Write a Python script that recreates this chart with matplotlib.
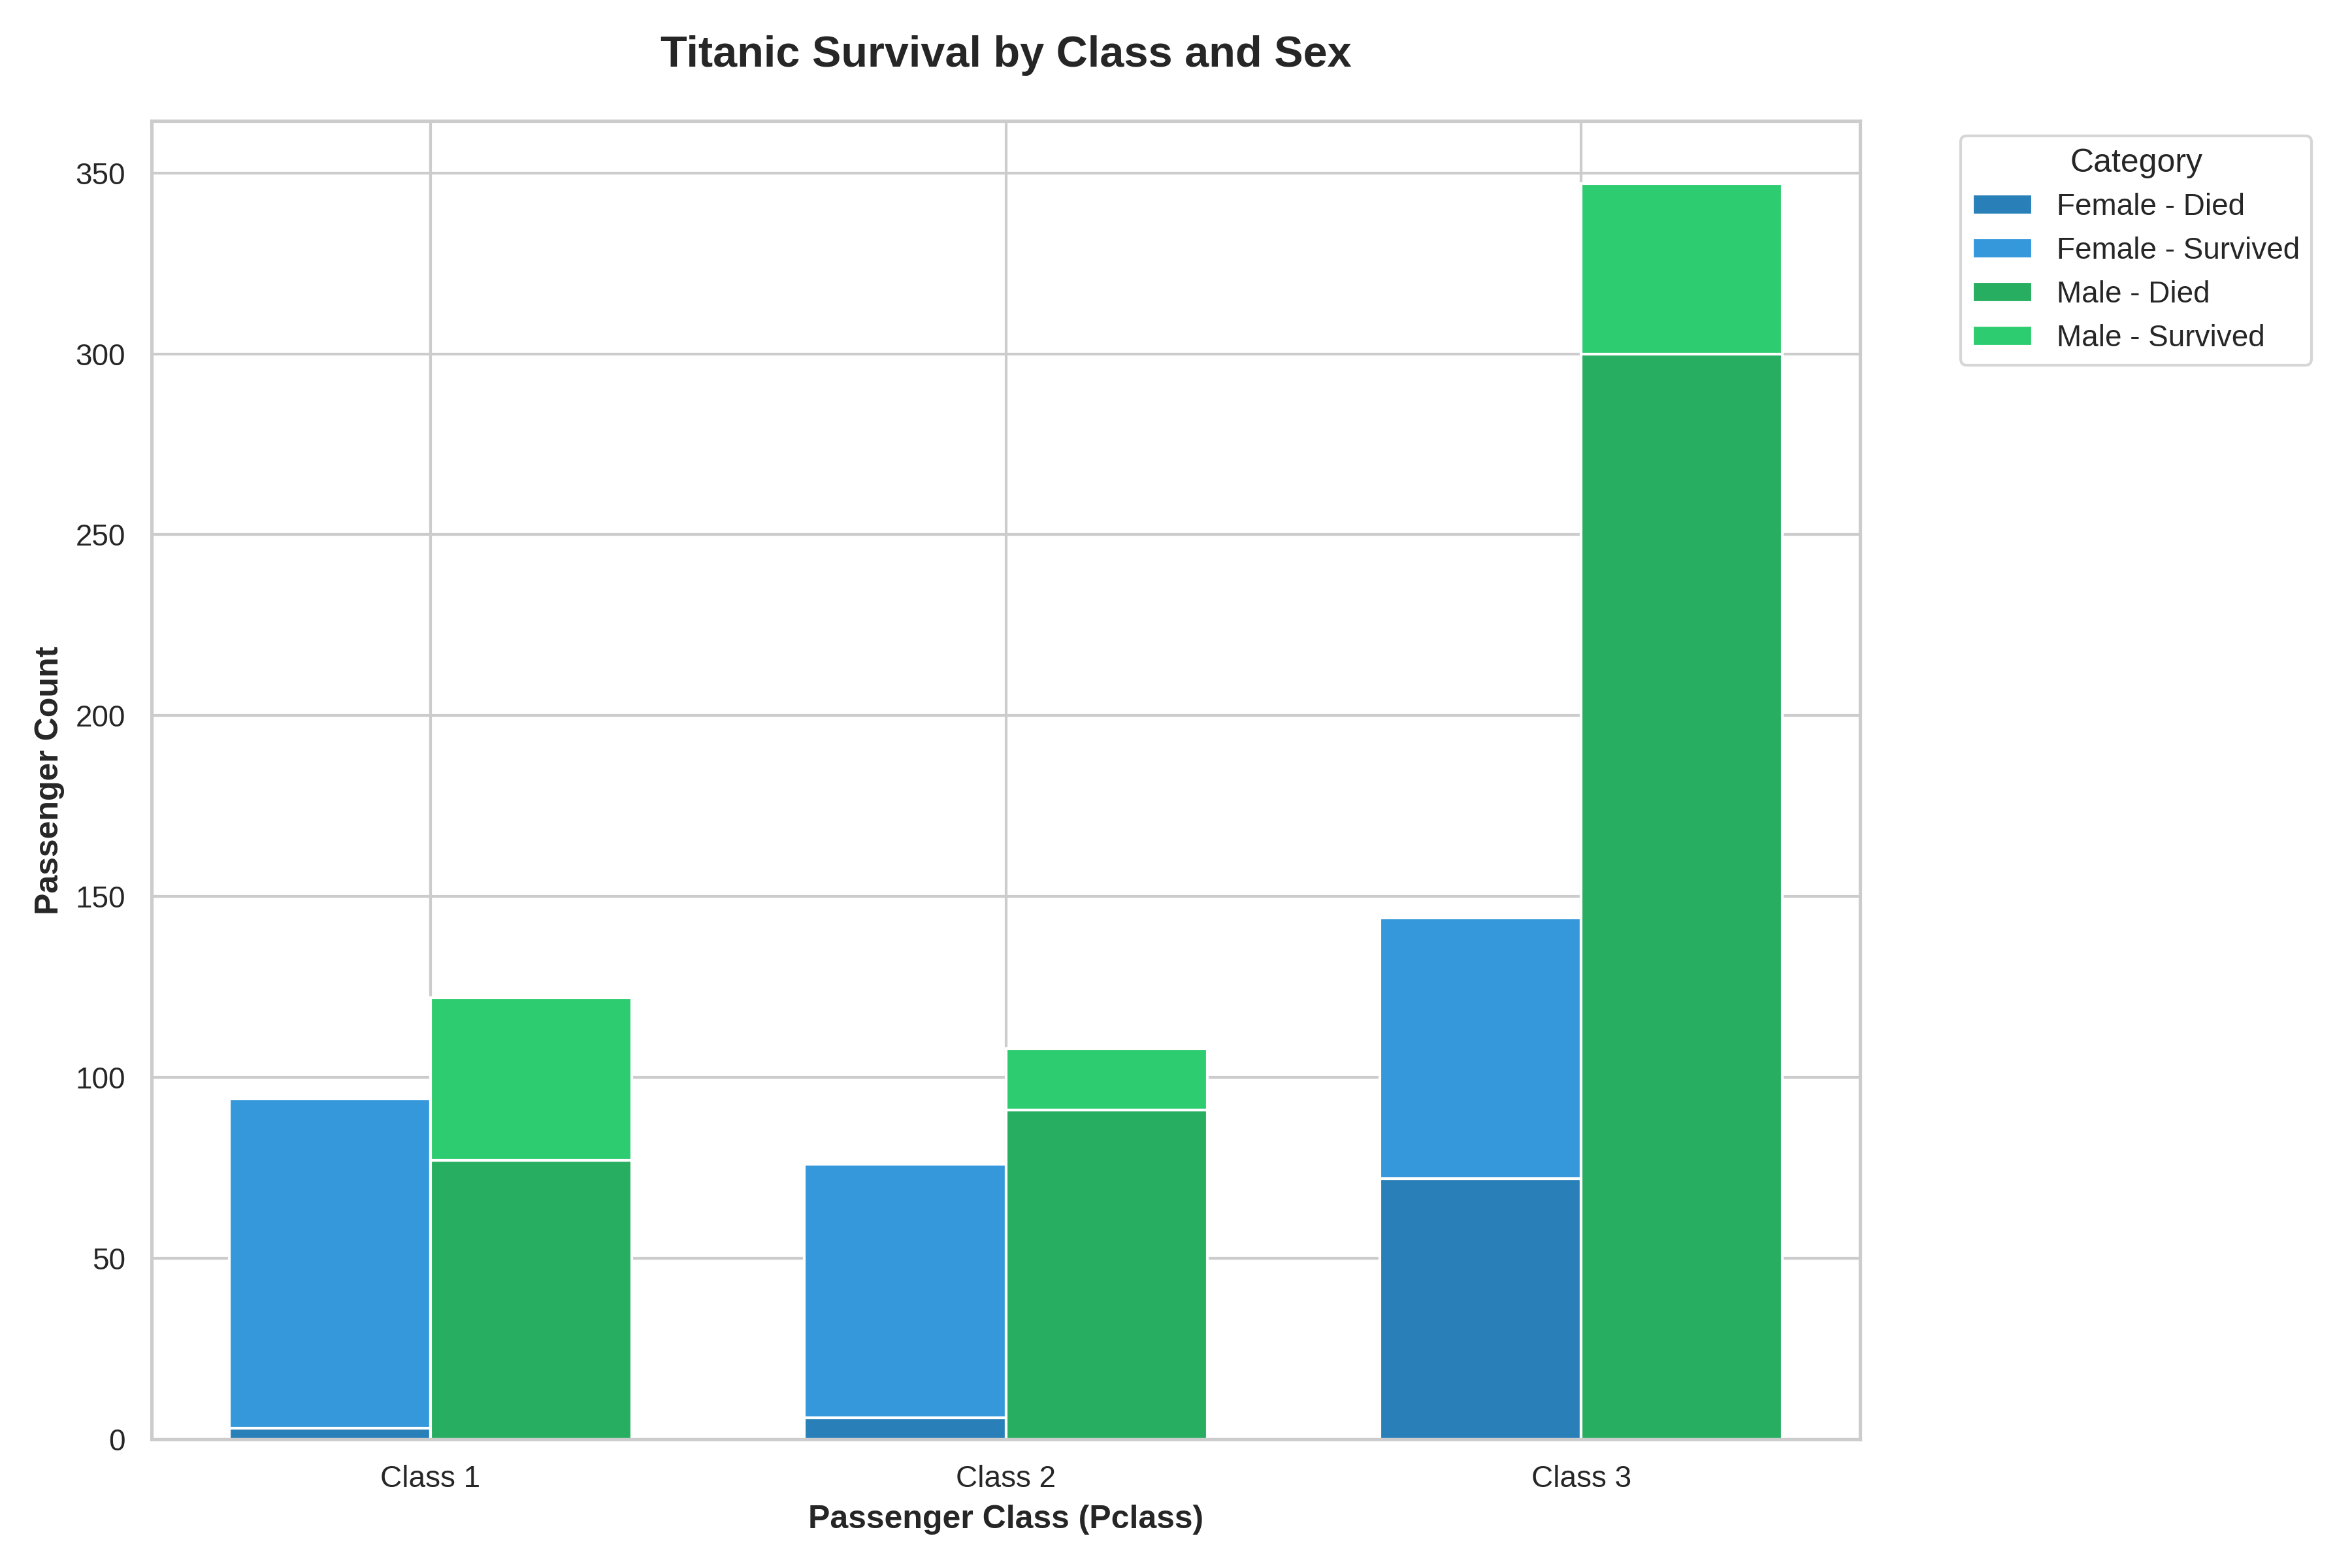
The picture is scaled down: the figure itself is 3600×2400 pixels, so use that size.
import numpy as np
import matplotlib
matplotlib.use("Agg")
import matplotlib.pyplot as plt
import seaborn as sns

sns.set_theme(style="whitegrid")
plt.rcParams['font.family'] = ['Liberation Sans', 'DejaVu Sans']

classes = ['Class 1', 'Class 2', 'Class 3']
female_died = [3, 6, 72]
female_survived = [91, 70, 72]
male_died = [77, 91, 300]
male_survived = [45, 17, 47]

colors = {
    'Female - Died': '#2980b9',
    'Female - Survived': '#3498db',
    'Male - Died': '#27ae60',
    'Male - Survived': '#2ecc71',
}

x = np.arange(len(classes))
width = 0.35

fig, ax = plt.subplots(figsize=(12, 8))

ax.bar(x - width / 2, female_died, width, color=colors['Female - Died'],
       edgecolor='white', label='Female - Died')
ax.bar(x - width / 2, female_survived, width, bottom=female_died,
       color=colors['Female - Survived'], edgecolor='white', label='Female - Survived')
ax.bar(x + width / 2, male_died, width, color=colors['Male - Died'],
       edgecolor='white', label='Male - Died')
ax.bar(x + width / 2, male_survived, width, bottom=male_died,
       color=colors['Male - Survived'], edgecolor='white', label='Male - Survived')

ax.set_xticks(x)
ax.set_xticklabels(classes)
ax.set_xlabel('Passenger Class (Pclass)', fontsize=12, fontweight='bold')
ax.set_ylabel('Passenger Count', fontsize=12, fontweight='bold')
ax.set_title('Titanic Survival by Class and Sex', fontsize=16, fontweight='bold', pad=20)
ax.legend(title='Category', bbox_to_anchor=(1.05, 1), loc='upper left')

plt.tight_layout()
plt.savefig('out.png', dpi=300)
